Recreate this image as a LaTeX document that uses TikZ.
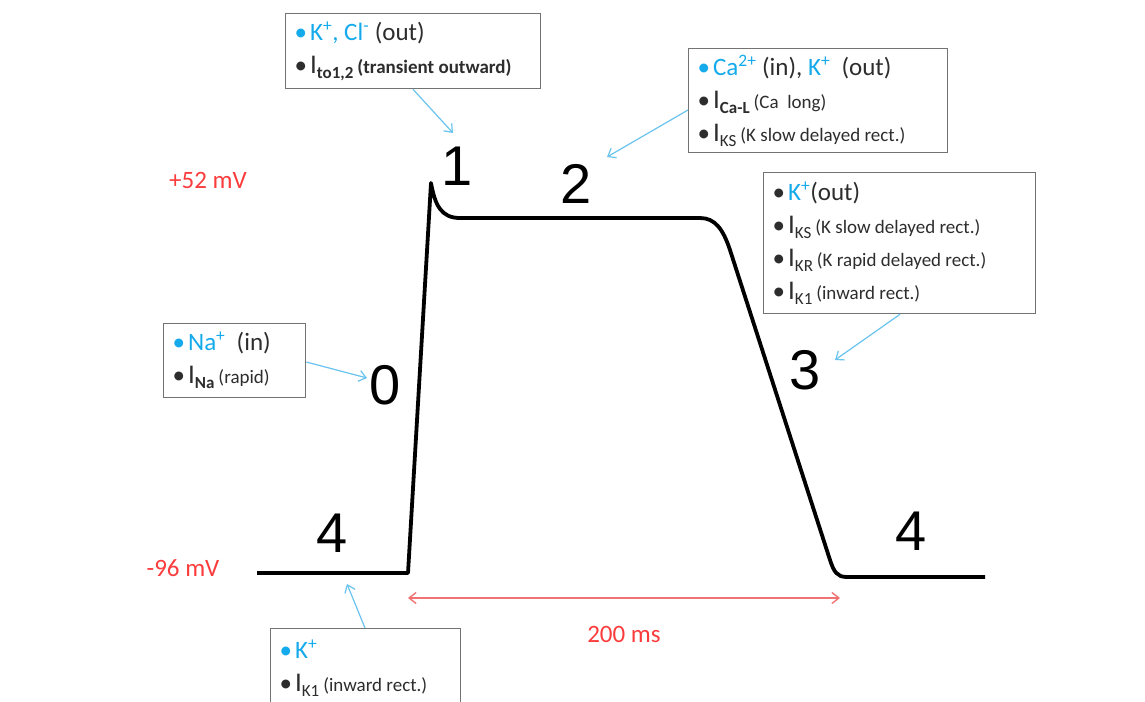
\documentclass[tikz,border=0pt]{standalone}
\usepackage{fontspec}
\setmainfont{Carlito}
\newfontfamily\phasefont{Liberation Sans}
\usetikzlibrary{arrows.meta, positioning}

\definecolor{ionblue}{RGB}{20,170,235}
\definecolor{cueblue}{RGB}{105,195,238}
\definecolor{mvred}{RGB}{250,60,60}
\definecolor{spanred}{RGB}{240,115,115}
\definecolor{boxgray}{RGB}{115,115,115}
\definecolor{textgray}{RGB}{45,45,45}

\newcommand{\blt}{\textbullet\hspace{3pt}}
\newcommand{\chan}[2]{{\fontsize{27}{33}\selectfont I}\raisebox{-5pt}{\fontsize{17}{17}\selectfont #1}\hspace{4pt}{\fontsize{19}{19}\selectfont #2}}

\begin{document}
\begin{tikzpicture}[x=1pt, y=-1pt,
    ionbox/.style={draw=boxgray, line width=1.3pt, fill=white, anchor=north west,
        align=flush left, inner xsep=9pt, inner ysep=0pt, text=textgray,
        font=\fontsize{25}{33}\selectfont},
    phase/.style={font=\phasefont\fontsize{56}{56}\selectfont, inner sep=0pt},
    cue/.style={draw=cueblue, line width=1.2pt, -{Straight Barb[length=7pt,width=11pt]}},
    span/.style={draw=spanred, line width=1.4pt, {Straight Barb[length=7pt,width=11pt]}-{Straight Barb[length=7pt,width=11pt]}},
    mvlabel/.style={text=mvred, font=\fontsize{25}{25}\selectfont, inner sep=0pt}]
    % Levels of the trace
    \def\restY{573}
    \def\plateauY{218}

    \clip (0,0) rectangle (1145,701);

    % Action potential trace
    \draw[line width=3.8pt, line join=round]
        (257,\restY) -- (408,\restY) -- (431,183)
        .. controls (435,205) and (441,\plateauY) .. (460,\plateauY) -- (700,\plateauY)
        .. controls (715,\plateauY) and (723,229) .. (730,250) -- (830,560)
        .. controls (834,572) and (837,577) .. (847,577) -- (985,577);

    % Phase numbers
    \node[phase] (p0) at (385,385) {0};
    \node[phase] (p1) at (457,166) {1};
    \node[phase] (p2) at (576,184) {2};
    \node[phase] (p3) at (805,370) {3};
    \node[phase] (p4a) at (332,533) {4};
    \node[phase] (p4b) at (911,531) {4};

    % Voltage and time labels
    \node[mvlabel] (top) at (208,180) {+52 mV};
    \node[mvlabel] (rest) at (183,568) {-96 mV};
    \node[mvlabel] (dur) at (624,634) {200 ms};
    \coordinate (spanL) at (408,598);
    \coordinate (spanR) at (840,598);
    \draw[span] (spanL) -- (spanR);

    % Ion current boxes
    \node[ionbox, text width=237pt, minimum height=75pt] (tobox) at (285,13)
        {{\color{ionblue}\blt K\textsuperscript{+}, Cl\textsuperscript{-}} (out)\\
         \blt\chan{\bfseries to1,2}{\bfseries (transient outward)}};
    \node[ionbox, text width=241pt, minimum height=104pt] (calbox) at (688,48)
        {{\color{ionblue}\blt Ca\textsuperscript{2+}} (in), {\color{ionblue}K\textsuperscript{+}}\ \ (out)\\
         \blt\chan{\bfseries Ca-L}{(Ca\ \ long)}\\
         \blt\chan{KS}{(K slow delayed rect.)}};
    \node[ionbox, text width=254pt, minimum height=141pt] (krbox) at (763,172)
        {\blt{\color{ionblue}K\textsuperscript{+}}(out)\\
         \blt\chan{KS}{(K slow delayed rect.)}\\
         \blt\chan{KR}{(K rapid delayed rect.)}\\
         \blt\chan{K1}{(inward rect.)}};
    \node[ionbox, text width=124pt, minimum height=74pt] (nabox) at (163,323)
        {{\color{ionblue}\blt Na\textsuperscript{+}}\ \ (in)\\
         \blt\chan{\bfseries Na}{(rapid)}};
    \node[ionbox, text width=172pt, minimum height=80pt] (k1box) at (270,628)
        {{\color{ionblue}\blt K\textsuperscript{+}}\\
         \blt\chan{K1}{(inward rect.)}};

    % Pointers to the phases
    \coordinate (tip0) at (367,378);
    \coordinate (tip1) at (453,133);
    \coordinate (tip2) at (607,157);
    \coordinate (tip3) at (835,360);
    \coordinate (tip4) at (347,584);
    \draw[cue] ([yshift=-39pt]nabox.north east) -- (tip0);
    \draw[cue] ([xshift=128pt]tobox.south west) -- (tip1);
    \draw[cue] ([yshift=-62pt]calbox.north west) -- (tip2);
    \draw[cue] ([xshift=137pt]krbox.south west) -- (tip3);
    \draw[cue] ([xshift=95pt]k1box.north west) -- (tip4);
\end{tikzpicture}
\end{document}
